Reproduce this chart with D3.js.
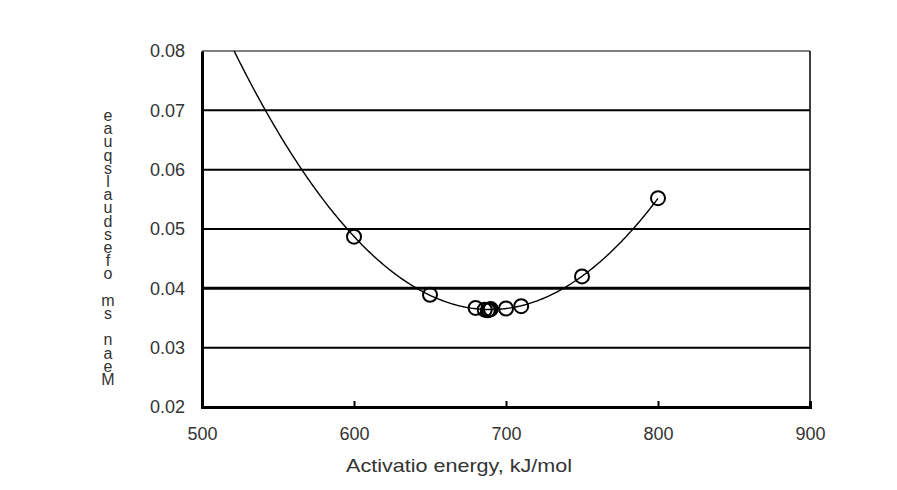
<!DOCTYPE html>
<html><head><meta charset="utf-8">
<script src="https://cdn.jsdelivr.net/npm/d3@7"></script>
<style>
body{margin:0;background:#fff;}
svg{display:block;}
text{font-family:"Liberation Sans",Arial,sans-serif;fill:#333;}
.vt{writing-mode:vertical-rl;text-orientation:upright;}
</style></head>
<body>
<svg id="c" width="897" height="490"></svg>
<script>
// ---- data ----
const activationEnergy = [600, 650, 680, 686, 688, 689, 690, 700, 710, 750, 800];
const meanSumSquares   = [0.0487, 0.0389, 0.0367, 0.0364, 0.0363, 0.0364, 0.0365, 0.0366, 0.0370, 0.0420, 0.0552];
const xTicks = [500, 600, 700, 800, 900];
const yTicks = [0.02, 0.03, 0.04, 0.05, 0.06, 0.07, 0.08];
const xTitle = "Activatio energy, kJ/mol";
const yTitle = "eauqslaudsefo ms naeM";   // as printed, stacked top-to-bottom

const svg = d3.select("#c");
const x = d3.scaleLinear().domain([500, 900]).range([202, 810]);
const y = d3.scaleLinear().domain([0.02, 0.08]).range([407, 51]);

// gridlines
svg.append("g").selectAll("line").data(yTicks.filter(v => v > 0.02))
  .join("line")
  .attr("x1", x(500)).attr("x2", x(900))
  .attr("y1", d => y(d)).attr("y2", d => y(d))
  .attr("stroke", d => d === 0.08 ? "#808080" : "#000")
  .attr("stroke-width", d => Math.abs(d - 0.04) < 1e-9 ? 3 : 2);

// right border
svg.append("line").attr("x1", x(900)).attr("x2", x(900)).attr("y1", y(0.08)).attr("y2", y(0.02))
  .attr("stroke", "#000").attr("stroke-width", 1.5);

// axes
const xAxis = d3.axisBottom(x).tickValues(xTicks).tickSize(-6).tickPadding(20).tickFormat(d3.format("d"));
const gx = svg.append("g").attr("transform", `translate(0,${y(0.02)})`).call(xAxis);
gx.select(".domain").attr("stroke", "#000").attr("stroke-width", 3);
gx.selectAll(".tick line").attr("stroke", "#000").attr("stroke-width", 2);
gx.selectAll(".tick text").attr("font-size", 18).attr("fill", "#333").style("font-family", "Liberation Sans, Arial, sans-serif");

const yAxis = d3.axisLeft(y).tickValues(yTicks).tickSize(0).tickPadding(17).tickFormat(d3.format(".2f"));
const gy = svg.append("g").attr("transform", `translate(${x(500)},0)`).call(yAxis);
gy.select(".domain").attr("stroke", "#000").attr("stroke-width", 3);
gy.selectAll(".tick text").attr("font-size", 18).attr("fill", "#333").style("font-family", "Liberation Sans, Arial, sans-serif");

// quadratic least-squares trendline from the data
function polyfit2(xs, ys) {
  let S = [0,0,0,0,0], T = [0,0,0];
  const xm = d3.mean(xs);
  xs.forEach((xv, i) => { const u = xv - xm; let p = 1;
    for (let k = 0; k < 5; k++) { S[k] += p; if (k < 3) T[k] += p * ys[i]; p *= u; } });
  const A = [[S[0],S[1],S[2],T[0]],[S[1],S[2],S[3],T[1]],[S[2],S[3],S[4],T[2]]];
  for (let i = 0; i < 3; i++) { for (let j = i+1; j < 3; j++) { const f = A[j][i]/A[i][i];
      for (let k = i; k < 4; k++) A[j][k] -= f*A[i][k]; } }
  const c = [0,0,0];
  for (let i = 2; i >= 0; i--) { let s = A[i][3]; for (let k = i+1; k < 3; k++) s -= A[i][k]*c[k]; c[i] = s/A[i][i]; }
  return v => { const u = v - xm; return c[0] + c[1]*u + c[2]*u*u; };
}
const fit = polyfit2(activationEnergy, meanSumSquares);
const curve = d3.range(500, 800.5, 1).map(v => [v, fit(v)]).filter(d => d[1] <= 0.0805);
svg.append("defs").append("clipPath").attr("id", "clip").append("rect")
  .attr("x", x(500)).attr("y", y(0.08)).attr("width", x(900) - x(500)).attr("height", y(0.02) - y(0.08));
svg.append("path").datum(curve).attr("clip-path", "url(#clip)")
  .attr("d", d3.line().x(d => x(d[0])).y(d => y(d[1])))
  .attr("fill", "none").attr("stroke", "#000").attr("stroke-width", 1.4);

// markers
svg.append("g").selectAll("circle").data(activationEnergy.map((v, i) => [v, meanSumSquares[i]]))
  .join("circle")
  .attr("cx", d => x(d[0])).attr("cy", d => y(d[1])).attr("r", 7)
  .attr("fill", "none").attr("stroke", "#000").attr("stroke-width", 2);

// x title
svg.append("text").attr("x", 459).attr("y", 472).attr("text-anchor", "middle")
  .attr("font-size", 19).attr("textLength", 226).attr("lengthAdjust", "spacingAndGlyphs").text(xTitle);

// y title: characters stacked vertically
svg.append("text").attr("class", "vt").attr("x", 108).attr("y", 107)
  .attr("font-size", 16).attr("letter-spacing", -3.8).attr("fill", "#333").text(yTitle);
</script>
</body></html>
